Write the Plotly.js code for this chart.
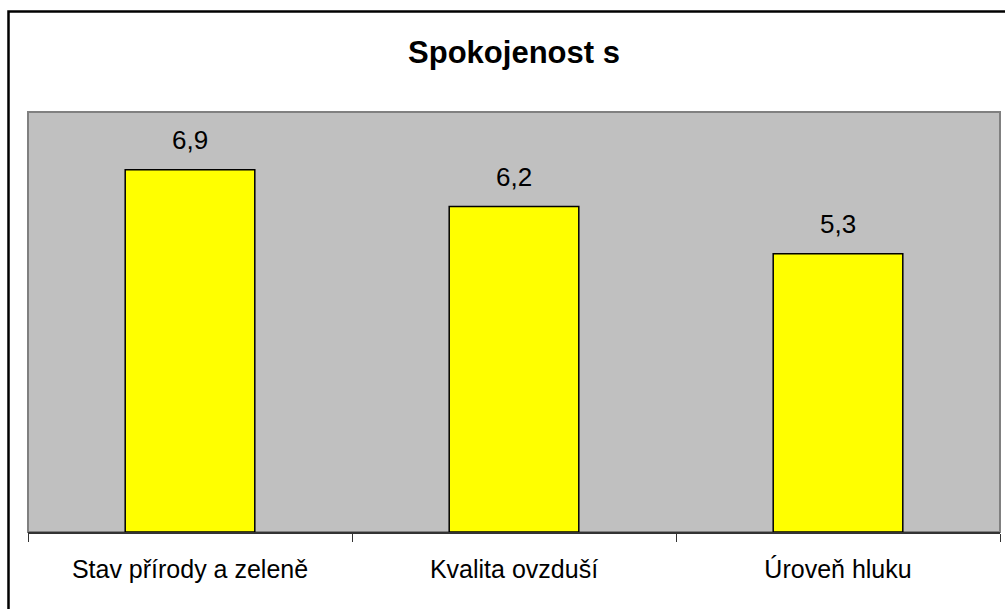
<!DOCTYPE html>
<html>
<head>
<meta charset="utf-8">
<script src="https://cdn.plot.ly/plotly-3.0.1.min.js"></script>
<style>
html,body{margin:0;padding:0;background:#fff;}
#chart{width:1005px;height:609px;}
</style>
</head>
<body>
<div id="chart"></div>
<script>
const categories = ["Stav přírody a zeleně", "Kvalita ovzduší", "Úroveň hluku"];
const values = [6.9, 6.2, 5.3];
const valueLabels = ["6,9", "6,2", "5,3"];
const chartTitle = "Spokojenost s";

const L = 28, R = 5, T = 112, B = 77;
const W = 1005, H = 609;
const pw = W - L - R, ph = H - T - B;
const px = x => (x - L) / pw;
const py = y => (H - B - y) / ph;
const FONT = 'Liberation Sans, Arial, sans-serif';

const trace = {
  type: 'bar',
  x: categories,
  y: values,
  marker: {color: '#FFFF00', line: {color: '#000000', width: 1.5}},
  hoverinfo: 'none'
};

const annotations = categories.map((c, i) => ({
  x: c, y: values[i], xref: 'x', yref: 'y',
  text: valueLabels[i], showarrow: false,
  xanchor: 'center', yanchor: 'bottom', yshift: 13,
  font: {family: FONT, size: 26, color: '#000'}
}));

const layout = {
  width: W, height: H,
  margin: {l: L, r: R, t: T, b: B},
  paper_bgcolor: '#ffffff',
  plot_bgcolor: '#C0C0C0',
  showlegend: false,
  bargap: 0.6,
  title: {
    text: '<b>' + chartTitle + '</b>',
    font: {family: FONT, size: 31, color: '#000'},
    x: 0.5, xanchor: 'center', xref: 'paper',
    y: 1 - 52 / H, yanchor: 'middle', yref: 'container'
  },
  xaxis: {
    type: 'category',
    showgrid: false,
    showline: true, linecolor: '#333333', linewidth: 1.5,
    ticks: 'outside', tickson: 'boundaries', ticklen: 8, tickcolor: '#333333', tickwidth: 1,
    tickfont: {family: FONT, size: 25, color: '#000'},
    ticklabelstandoff: 14,
    zeroline: false
  },
  yaxis: {
    range: [0, 8],
    showgrid: false, zeroline: false,
    showticklabels: false, ticks: '', showline: false
  },
  annotations: annotations,
  shapes: [
    {type: 'rect', xref: 'paper', yref: 'paper', x0: 0, x1: 1, y0: 0, y1: 1,
     line: {color: '#808080', width: 2}, layer: 'below'},
    {type: 'rect', xref: 'paper', yref: 'paper',
     x0: px(8.5), x1: px(1012), y0: py(11.5), y1: py(620),
     line: {color: '#000000', width: 2.5}, layer: 'above'}
  ]
};

Plotly.newPlot('chart', [trace], layout, {staticPlot: true, displayModeBar: false});
</script>
</body>
</html>
